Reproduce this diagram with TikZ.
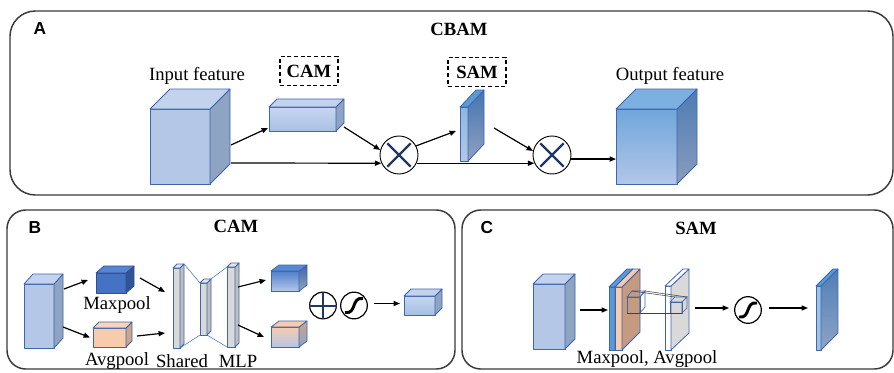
\documentclass[tikz,border=0pt]{standalone}
\usepackage{fontspec}
\setmainfont{Liberation Serif}
\newfontfamily\tagfont{Liberation Sans}
\usetikzlibrary{arrows.meta}

% palette
\definecolor{edge}{HTML}{3F65AE}
\definecolor{edgedk}{HTML}{2F4F8F}
\definecolor{panelline}{HTML}{3A3A3A}
\definecolor{navy}{HTML}{1F3864}
\definecolor{lbF}{HTML}{B4C7E7}
\definecolor{lbS}{HTML}{8FA3C2}
\definecolor{lbT}{HTML}{C3D3EE}
\definecolor{lgA}{HTML}{C6D7F0}
\definecolor{lgB}{HTML}{A9BFE4}
\definecolor{outA}{HTML}{6FA6DB}
\definecolor{outB}{HTML}{B3C6E8}
\definecolor{outSA}{HTML}{4D7DB3}
\definecolor{outSB}{HTML}{8B9BBE}
\definecolor{outT}{HTML}{7BB0E0}
\definecolor{samA}{HTML}{8DB8E3}
\definecolor{samSA}{HTML}{4576B0}
\definecolor{samSB}{HTML}{8FA0C2}
\definecolor{midblue}{HTML}{5B9BD5}
\definecolor{mxF}{HTML}{4472C4}
\definecolor{mxS}{HTML}{2F5597}
\definecolor{mxT}{HTML}{5585D3}
\definecolor{peach}{HTML}{F8CBAD}
\definecolor{peachS}{HTML}{C9A58C}
\definecolor{peachT}{HTML}{F9D3BA}
\definecolor{brown}{HTML}{C49A80}
\definecolor{grF}{HTML}{D9D9D9}
\definecolor{grS}{HTML}{BFBFBF}
\definecolor{grT}{HTML}{E7E7E7}
\definecolor{otA}{HTML}{4F7FCB}
\definecolor{otSA}{HTML}{3D66A8}
\definecolor{otT}{HTML}{5A88D2}
\definecolor{fcA}{HTML}{C5D8F1}
\definecolor{fcB}{HTML}{A6BEE5}
\definecolor{osF}{HTML}{9DC3E6}
\definecolor{osSA}{HTML}{4F7FB8}
\definecolor{osSB}{HTML}{8FA3C4}

\tikzset{
  cubenode/.style={anchor=north west, inner sep=0pt, outer sep=0pt},
  face/.style={draw=edge, line width=0.6pt, line join=round},
  % light blue block
  lb front/.style={face, fill=lbF},
  lb side/.style={face, fill=lbS},
  lb top/.style={face, fill=lbT},
  % channel attention vector
  lbg front/.style={face, top color=lgA, bottom color=lgB},
  lbg side/.style={face, fill=lbS},
  lbg top/.style={face, fill=lbT},
  % refined output block
  out front/.style={face, top color=outA, bottom color=outB},
  out side/.style={face, top color=outSA, bottom color=outSB},
  out top/.style={face, fill=outT},
  % spatial attention map
  sam front/.style={face, top color=samA, bottom color=lbF},
  sam side/.style={face, top color=samSA, bottom color=samSB},
  sam top/.style={face, fill=midblue},
  % pooled descriptors
  mx front/.style={face, draw=edgedk, fill=mxF},
  mx side/.style={face, draw=edgedk, fill=mxS},
  mx top/.style={face, draw=edgedk, fill=mxT},
  av front/.style={face, fill=peach},
  av side/.style={face, fill=peachS},
  av top/.style={face, fill=peachT},
  % shared MLP layers
  gr front/.style={face, fill=grF},
  gr side/.style={face, fill=grS},
  gr top/.style={face, fill=grT},
  % MLP outputs
  ot front/.style={face, top color=otA, bottom color=lbF},
  ot side/.style={face, top color=otSA, bottom color=lbS},
  ot top/.style={face, fill=otT},
  ob front/.style={face, top color=peach, bottom color=lbF},
  ob side/.style={face, top color=peachS, bottom color=lbS},
  ob top/.style={face, fill=peach},
  fc front/.style={face, top color=fcA, bottom color=fcB},
  fc side/.style={face, fill=lbS},
  fc top/.style={face, fill=lbT},
  % stacked pooling maps
  bs front/.style={face, fill=midblue},
  bs side/.style={face, fill=midblue},
  bs top/.style={face, fill=midblue},
  ps front/.style={face, fill=peach},
  ps side/.style={face, fill=brown},
  ps top/.style={face, fill=peach},
  gs front/.style={face, fill=white},
  gs side/.style={face, fill=grF},
  gs top/.style={face, fill=white},
  os front/.style={face, fill=osF},
  os side/.style={face, top color=osSA, bottom color=osSB},
  os top/.style={face, fill=midblue},
  % convolution kernel wireframe
  kr front/.style={draw=edge, line width=0.5pt},
  kr side/.style={draw=edge, line width=0.5pt},
  kr top/.style={draw=edge, line width=0.5pt},
  % other elements
  panel/.style={draw=panelline, line width=1.1pt},
  tag/.style={font=\tagfont\bfseries\fontsize{13}{13}\selectfont},
  title/.style={font=\bfseries\fontsize{14}{14}\selectfont},
  txt/.style={font=\fontsize{14}{14}\selectfont, inner sep=0pt},
  dbox/.style={draw, dashed, line width=1pt, dash pattern=on 3pt off 2pt,
    font=\bfseries\fontsize{14}{14}\selectfont,
    minimum width=43.5pt, minimum height=21.5pt, inner sep=0pt},
  op/.style={circle, draw, line width=0.9pt, fill=white, inner sep=0pt},
  big op/.style={op, line width=0.7pt, minimum size=28.5pt},
  small op/.style={op, minimum size=20pt},
  cross/.style={draw=navy, line width=1.7pt, shorten <=2.2pt, shorten >=2.2pt},
  plusbar/.style={draw=navy, line width=1.5pt},
  sigm/.style={draw=black, line width=2.2pt},
  arr/.style={draw, line width=0.9pt, -{Triangle[length=4.8pt,width=3.8pt]}},
  link/.style={draw=mxF, line width=0.4pt},
  klink/.style={draw=black!75, line width=0.4pt},
}

% cuboid: name, style prefix, x, y (front top-left), width, height, depth dx, depth dy
\newcommand\cuboid[8]{%
  \node[#2 front, cubenode, minimum width={#5*0.75pt}, minimum height={#6*0.75pt}] (#1) at (#3,#4) {};
  \path[#2 side] (#1.north east) -- ++(#7,-#8) -- ++(0,#6) -- (#1.south east) -- cycle;
  \path[#2 top] (#1.north west) -- ++(#7,-#8) -- ++(#5,0) -- (#1.north east) -- cycle;
}
% sigmoid glyph inside a named circle
\newcommand\sigmoidmark[1]{%
  \path[sigm] ([shift={(-9,7)}]#1.center) .. controls ([shift={(3,9)}]#1.center) and ([shift={(-3,-9)}]#1.center) .. ([shift={(9,-7)}]#1.center);
}

\begin{document}
\begin{tikzpicture}[x=0.75pt, y=-0.75pt]
\useasboundingbox (0,0) rectangle (894,372);
\fill[white] (0,0) rectangle (894,372);

% ---------------- A: CBAM overview ----------------
\draw[panel, rounded corners=19pt] (10,11) rectangle (893,195);
\node[tag] (tagA) at (40,29) {A};
\node[title] (cbam) at (459,29) {CBAM};

\cuboid{inA}{lb}{150}{109}{60}{75}{20}{20}
\node[txt] (inAlab) at (197,76) {Input feature};

\node[dbox] (camA) at (309,71) {CAM};
\cuboid{camvec}{lbg}{269}{107}{67}{24}{8}{8}

\node[big op] (x1) at (399,155) {};
\path[cross] (x1.45) -- (x1.225);
\path[cross] (x1.135) -- (x1.315);

\node[dbox] (samA) at (477,72) {SAM};
\cuboid{sammap}{sam}{460}{107}{8}{54}{16}{17}

\node[big op] (x2) at (552,155) {};
\path[cross] (x2.45) -- (x2.225);
\path[cross] (x2.135) -- (x2.315);

\cuboid{outcube}{out}{616}{109}{61}{75}{20}{20}
\node[txt] (outlab) at (670,76) {Output feature};

\path[arr] ([shift={(21,-1.5)}]inA.east) -- ([shift={(-1,-3)}]camvec.south west);
\path[arr] ([shift={(21,16.5)}]inA.east) -- (x1.205);
\path[arr] ([shift={(8,-4)}]camvec.south east) -- (x1.165);
\path[arr] (x1.28) -- ([shift={(-4,-3)}]sammap.west);
\path[arr] (x1.335) -- (x2.205);
\path[arr] ([shift={(26,-6)}]sammap.east) -- (x2.168);
\path[arr] (x2.348) -- (x2.348 -| outcube.west);

% ---------------- B: channel attention module ----------------
\draw[panel, rounded corners=14pt] (7,210) rectangle (455,369);
\node[tag] (tagB) at (35,228) {B};
\node[title] (camB) at (236,226) {CAM};

\cuboid{inB}{lb}{24}{284}{30}{64}{9}{10}
\cuboid{maxp}{mx}{96}{273}{30}{20}{8}{7}
\node[txt] (maxlab) at (117,305) {Maxpool};
\cuboid{avgp}{av}{93}{328}{33}{19}{6}{6}
\node[txt] (avglab) at (117,361) {Avgpool};

\cuboid{mlpa}{gr}{173}{268}{7}{80}{4}{4}
\cuboid{mlpb}{gr}{200}{283}{7}{52}{4}{4}
\cuboid{mlpc}{gr}{227}{267}{8}{80}{4}{4}
\path[link] ([shift={(4,-4)}]mlpa.north east) -- (mlpb.north west);
\path[link] (mlpa.south east) -- (mlpb.south west);
\path[link] ([shift={(4,-4)}]mlpb.north east) -- (mlpc.north west);
\path[link] (mlpb.south east) -- (mlpc.south west);
\node[txt] (sharedlab) at (182,361) {Shared};
\node[txt] (mlplab) at (238,361) {MLP};

\cuboid{mlpout1}{ot}{271}{271}{28}{20}{8}{6}
\cuboid{mlpout2}{ob}{271}{327}{28}{20}{8}{6}

\node[small op] (plus) at (323,305.5) {};
\path[plusbar] (plus.north) -- (plus.south);
\path[plusbar] (plus.west) -- (plus.east);
\node[small op] (sgB) at (354,305.5) {};
\sigmoidmark{sgB}
\cuboid{cattn}{fc}{404}{296}{31}{19}{7}{7}

\path[arr] ([shift={(10,-27)}]inB.east) -- ([shift={(-8,-3)}]maxp.west);
\path[arr] ([shift={(9,11)}]inB.east) -- ([shift={(-3,0)}]avgp.west);
\path[arr] ([shift={(14,-5)}]maxp.east) -- ([shift={(-8,-16)}]mlpa.west);
\path[arr] ([shift={(11,-1.5)}]avgp.east) -- ([shift={(-8,25)}]mlpa.west);
\path[arr] ([shift={(3,-20)}]mlpc.east) -- ([shift={(-5,-1)}]mlpout1.west);
\path[arr] ([shift={(3,18)}]mlpc.east) -- ([shift={(-7,0)}]mlpout2.west);
\path[arr] ([shift={(6,-2)}]sgB.east) -- ([shift={(-4,-2)}]cattn.west);

% ---------------- C: spatial attention module ----------------
\draw[panel, rounded corners=14pt] (462,210) rectangle (893,369);
\node[tag] (tagC) at (487,228) {C};
\node[title] (samC) at (696,228) {SAM};

\cuboid{inC}{lb}{533}{284}{32}{65}{10}{10}
\cuboid{maxmap}{bs}{609}{287}{6}{63}{18}{18}
\cuboid{avgmap}{ps}{615}{287}{7}{63}{18}{18}
\cuboid{kernel}{kr}{627}{297}{13}{16}{5}{6}
\cuboid{convmap}{gs}{665}{286}{6}{64}{18}{17}
\cuboid{kout}{kr}{670}{302}{12}{11}{5}{5}
\path[klink] ([shift={(5,-6)}]kernel.north west) -- ([shift={(5,-5)}]kout.north west);
\path[klink] ([shift={(5,-6)}]kernel.north east) -- ([shift={(5,-5)}]kout.north east);
\path[klink] (kernel.south east) -- (kout.south east);
\path[klink] (kernel.south west) -- (kout.south west);
\node[txt] (pooltxt) at (647,359) {Maxpool, Avgpool};

\node[small op] (sgC) at (748,310) {};
\sigmoidmark{sgC}
\cuboid{sattn}{os}{816}{286}{5}{64}{17}{17}

\path[arr] ([shift={(15,-6.5)}]inC.east) -- ([shift={(-1,-8.5)}]maxmap.west);
\path[arr] ([shift={(24,-10)}]convmap.east) -- ([shift={(-5,-2)}]sgC.west);
\path[arr] ([shift={(7,-2)}]sgC.east) -- ([shift={(-8,-10)}]sattn.west);
\end{tikzpicture}
\end{document}
